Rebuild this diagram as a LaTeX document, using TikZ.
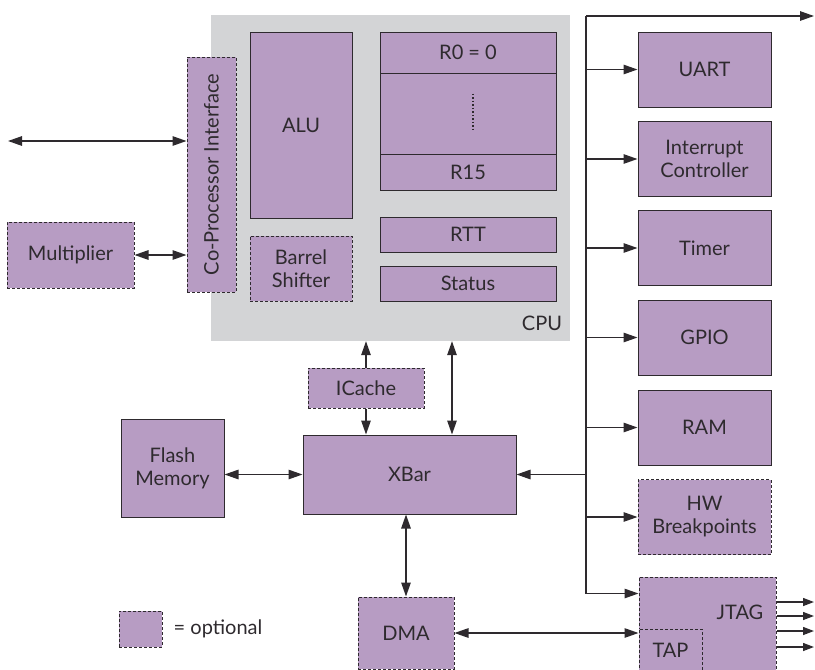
\documentclass[tikz,border=0pt]{standalone}
\usepackage{fontspec}
\setmainfont{Lato}
\usepackage{xcolor}
\usetikzlibrary{arrows.meta,positioning,calc}
\definecolor{blkfill}{HTML}{B79CC3}
\definecolor{cpugray}{HTML}{D3D4D6}
\definecolor{edge}{HTML}{2E2A2E}
\tikzset{
  >={Triangle[length=14pt,width=9.5pt]},
  lbl/.style={font=\fontsize{20}{23}\selectfont, text=edge, inner sep=0pt},
  blk/.style={draw=edge, line width=1pt, fill=blkfill, align=center, lbl},
  opt/.style={blk, dash pattern=on 3pt off 2pt},
  per/.style={blk, minimum width=133, minimum height=75},
  flow/.style={draw=edge, line width=1.3pt},
}
\begin{document}
\begin{tikzpicture}[x=1pt, y=-1pt]
  \useasboundingbox (0,0) rectangle (815,670);
  % cpu core
  \node[fill=cpugray, minimum width=359, minimum height=326, inner sep=0pt] (cpu) at (390.5,178) {};
  \node[lbl, anchor=south east] (cpulbl) at ([xshift=-8pt,yshift=10pt]cpu.south east) {CPU};
  \node[blk, minimum width=102, minimum height=186] (alu) at (301,125) {ALU};
  \node[opt, minimum width=102, minimum height=65] (barrel) at (301,268.5) {Barrel\\Shifter};
  \node[blk, minimum width=176, minimum height=41] (r0) at (468,52.5) {R0 = 0};
  \node[blk, minimum width=176, minimum height=81] (regmid) at (468,113.5) {};
  \node[blk, minimum width=176, minimum height=36] (r15) at (468,172) {R15};
  \draw[edge, line width=1.5pt, dash pattern=on 1.5pt off 2pt] ($(regmid.center)+(5,-20)$) -- ($(regmid.center)+(5,17)$);
  \node[blk, minimum width=176, minimum height=35] (rtt) at (468,234.5) {RTT};
  \node[blk, minimum width=176, minimum height=35] (status) at (468,283.5) {Status};
  \node[opt, minimum width=49, minimum height=235] (cop) at (211.5,174.5) {\rotatebox{90}{Co-Processor Interface}};
  % left side
  \node[opt, minimum width=127, minimum height=66] (mult) at (70.5,255) {Multiplier};
  \coordinate (cpext) at (8,141);
  \draw[flow,<->] (cpext) -- (cpext -| cop.west);
  \draw[flow,<->] (mult.east) -- (mult.east -| cop.west);
  % memory side
  \node[opt, minimum width=116, minimum height=40] (icache) at (366,388) {ICache};
  \node[blk, minimum width=213, minimum height=79] (xbar) at (409.5,474.5) {XBar};
  \node[blk, minimum width=103, minimum height=98] (flash) at (172.5,468) {Flash\\Memory};
  \node[opt, minimum width=96, minimum height=72] (dma) at (406,633) {DMA};
  \coordinate (xport) at ([xshift=42.5pt]xbar.north);
  \draw[flow,->] (icache.north) -- (icache.north |- cpu.south);
  \draw[flow,->] (icache.south) -- (icache.south |- xbar.north);
  \draw[flow,<->] (xport) -- (xport |- cpu.south);
  \draw[flow,<->] (flash.east |- xbar.west) -- (xbar.west);
  \draw[flow,<->] (dma.north) -- (dma.north |- xbar.south);
  % peripherals
  \node[per] (uart) at (704.5,69.5) {UART};
  \node[per] (intc) at (704.5,159) {Interrupt\\Controller};
  \node[per] (timer) at (704.5,248) {Timer};
  \node[per] (gpio) at (704.5,337.5) {GPIO};
  \node[per] (ram) at (704.5,427.5) {RAM};
  \node[per, opt] (hwbp) at (704.5,517) {HW\\Breakpoints};
  \node[opt, minimum width=137, minimum height=95] (jtag) at (707.5,624.5) {};
  \node[lbl] (jtaglbl) at (740,612) {JTAG};
  \node[opt, minimum width=63, minimum height=43] (tap) at (670.5,650.5) {TAP};
  % bus
  \coordinate (bus) at (586,16);
  \coordinate (busend) at (814,16);
  \draw[flow,->] (bus) -- (busend);
  \draw[flow,->] (bus) |- ([yshift=31pt]jtag.west);
  \foreach \p in {uart,intc,timer,gpio,ram,hwbp} \draw[flow,->] (bus |- \p.west) -- (\p.west);
  \draw[flow,->] (bus |- xbar.east) -- (xbar.east);
  \draw[flow,<->] (dma.east) -- (dma.east -| jtag.west);
  \foreach \y [count=\i] in {602,616,631,647} {
    \coordinate (jout\i) at (814,\y);
    \draw[flow,-{Triangle[length=11pt,width=8pt]}] (jout\i -| jtag.east) -- (jout\i);
  }
  % legend
  \node[opt, minimum width=43, minimum height=36] (legbox) at (140.5,629) {};
  \node[lbl, anchor=west] (legtxt) at ([xshift=11pt]legbox.east) {= optional};
\end{tikzpicture}
\end{document}
